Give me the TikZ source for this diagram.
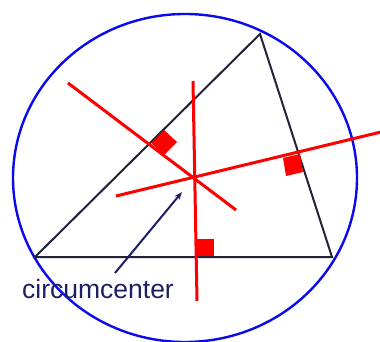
\documentclass[tikz,border=0pt]{standalone}
\usepackage{fontspec}
\setmainfont{Liberation Sans}
\usetikzlibrary{positioning, arrows.meta}

\definecolor{navy}{RGB}{30,30,100}
\definecolor{edgegray}{RGB}{35,35,55}
\definecolor{circblue}{RGB}{10,10,235}

\begin{document}
\begin{tikzpicture}[x=1pt, y=-1pt, >={Stealth[length=8pt, width=6pt]}]
        \tikzstyle{side} = [draw=edgegray, line width=2pt]
        \tikzstyle{bisector} = [draw=red, line width=3pt]
        \tikzstyle{rightangle} = [fill=red, draw=none]
        \tikzstyle{label_text} = [text=navy, font=\fontsize{26.5}{28}\selectfont, inner sep=0pt]

        \useasboundingbox (0,0) rectangle (380,342);

        % triangle corners
        \coordinate (A) at (35,257);
        \coordinate (B) at (332,257);
        \coordinate (C) at (260,34);

        % perpendicular bisectors
        \coordinate (ab1) at (193,81);
        \coordinate (ab2) at (197,301);
        \coordinate (ac1) at (68,83);
        \coordinate (ac2) at (236,210);
        \coordinate (bc1) at (116,196);
        \coordinate (bc2) at (381,132);
        \coordinate (centre) at (182,192);

        \draw [draw=circblue, line width=2.4pt] (185,178) ellipse [x radius=172, y radius=164];

        \draw [side] (A) -- (B) -- (C) -- cycle;

        \draw [bisector] (ab1) -- (ab2);
        \draw [bisector] (ac1) -- (ac2);
        \draw [bisector] (bc1) -- (bc2);

        \fill [rightangle] (195,239) rectangle (214,256);
        \fill [rightangle] (151,143) -- (164,130) -- (177,142) -- (164,155) -- cycle;
        \fill [rightangle] (283,158) -- (300,154) -- (303,172) -- (286,176) -- cycle;

        \node [label_text] (circ) at (98,289) {circumcenter};
        \coordinate (tail) at (115,273);

        \draw [->, navy, line width=2pt] (tail) -- (centre);

    \end{tikzpicture}
\end{document}
